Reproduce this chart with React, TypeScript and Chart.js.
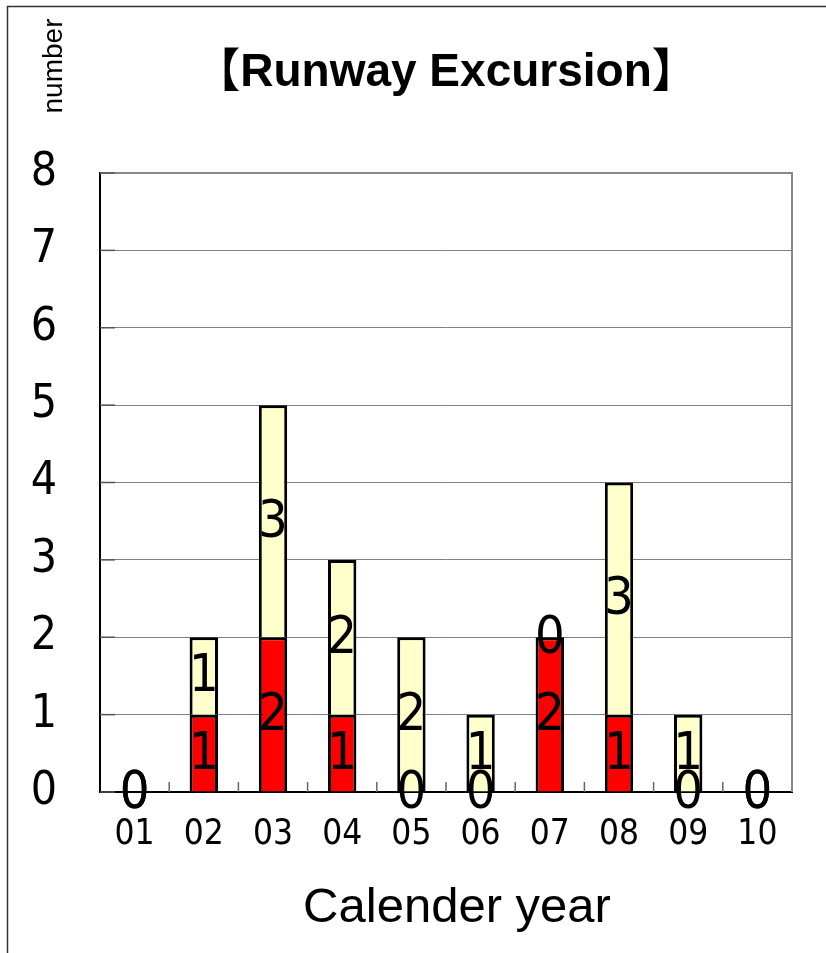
import React, { useEffect, useRef } from "react";
import { Chart, registerables } from "chart.js";

Chart.register(...registerables);

const categories = ["01", "02", "03", "04", "05", "06", "07", "08", "09", "10"];
const redValues = [0, 1, 2, 1, 0, 0, 2, 1, 0, 0];
const yellowValues = [0, 1, 3, 2, 2, 1, 0, 3, 1, 0];
const yMin = 0;
const yMax = 8;
const yStep = 1;
const titleText = "【Runway Excursion】";
const xTitleText = "Calender year";
const yTitleText = "number";

const NARROW = '"Liberation Sans Narrow", "DejaVu Sans Condensed", "Liberation Sans", sans-serif';
const SANS = '"Liberation Sans", "Noto Sans CJK JP", sans-serif';

const decorPlugin = {
  id: "decor",
  afterDraw(chart: any) {
    const ctx = chart.ctx;
    const area = chart.chartArea;
    const xs = chart.scales.x;
    const ys = chart.scales.y;
    ctx.save();
    // outer frame (left & top)
    ctx.strokeStyle = "#333";
    ctx.lineWidth = 1.5;
    ctx.beginPath();
    ctx.moveTo(7.5, 953);
    ctx.lineTo(7.5, 6.5);
    ctx.lineTo(826, 6.5);
    ctx.stroke();
    // chart area top/right border
    ctx.strokeStyle = "#888";
    ctx.lineWidth = 2;
    ctx.beginPath();
    ctx.moveTo(area.left, area.top);
    ctx.lineTo(area.right, area.top);
    ctx.lineTo(area.right, area.bottom);
    ctx.stroke();
    // inside ticks on x axis at category boundaries
    ctx.strokeStyle = "#666";
    ctx.lineWidth = 1.5;
    for (let i = 0; i < categories.length - 1; i++) {
      const bx = (xs.getPixelForValue(i) + xs.getPixelForValue(i + 1)) / 2;
      ctx.beginPath();
      ctx.moveTo(bx, area.bottom);
      ctx.lineTo(bx, area.bottom - 10);
      ctx.stroke();
    }
    // inside ticks on y axis
    ctx.strokeStyle = "#555";
    for (let v = yMin; v <= yMax; v += yStep) {
      const py = ys.getPixelForValue(v);
      ctx.beginPath();
      ctx.moveTo(area.left, py);
      ctx.lineTo(area.left + 15, py);
      ctx.stroke();
    }
    // data labels
    ctx.fillStyle = "#000";
    ctx.font = "52px " + NARROW;
    ctx.textAlign = "center";
    ctx.textBaseline = "middle";
    chart.data.datasets.forEach((ds: any, di: number) => {
      const meta = chart.getDatasetMeta(di);
      meta.data.forEach((el: any, i: number) => {
        const cy = (el.y + el.base) / 2;
        ctx.fillText(String(ds.data[i]), el.x, cy + 2);
      });
    });
    // title
    ctx.textBaseline = "alphabetic";
    ctx.font = "bold 46px " + SANS;
    ctx.fillText(titleText, (area.left + area.right) / 2, 86);
    // x title
    ctx.font = "49px " + SANS;
    ctx.fillText(xTitleText, 457, 922);
    // y title rotated
    ctx.save();
    ctx.translate(62, 66);
    ctx.rotate(-Math.PI / 2);
    ctx.font = "28px " + SANS;
    ctx.textAlign = "center";
    ctx.fillText(yTitleText, 0, 0);
    ctx.restore();
    ctx.restore();
  },
};

export default function App() {
  const ref = useRef<HTMLCanvasElement | null>(null);
  useEffect(() => {
    if (!ref.current) return;
    const chart = new Chart(ref.current, {
      type: "bar",
      data: {
        labels: categories,
        datasets: [
          {
            label: "red",
            data: redValues,
            backgroundColor: "#FF0000",
            borderColor: "#000",
            borderWidth: 3,
            barPercentage: 0.41,
            categoryPercentage: 1,
          },
          {
            label: "yellow",
            data: yellowValues,
            backgroundColor: "#FFFFCC",
            borderColor: "#000",
            borderWidth: 3,
            barPercentage: 0.41,
            categoryPercentage: 1,
          },
        ],
      },
      options: {
        responsive: false,
        animation: false,
        layout: { padding: { left: 0, top: 173, right: 34, bottom: 0 } },
        plugins: {
          legend: { display: false },
          title: { display: false },
          tooltip: { enabled: false },
        },
        scales: {
          x: {
            stacked: true,
            offset: true,
            grid: { display: false, drawTicks: false },
            border: { display: true, color: "#000", width: 2 },
            ticks: {
              color: "#000",
              font: { family: NARROW, size: 35 },
              padding: 22,
            },
            afterFit(scale: any) {
              scale.height = 953 - 792;
            },
          },
          y: {
            stacked: true,
            min: yMin,
            max: yMax,
            grid: { color: "#808080", lineWidth: 1, drawTicks: false },
            border: { display: true, color: "#000", width: 2 },
            ticks: {
              stepSize: yStep,
              color: "#000",
              font: { family: NARROW, size: 46 },
              padding: 43,
            },
            afterFit(scale: any) {
              scale.width = 100;
            },
          },
        },
      },
      plugins: [decorPlugin],
    });
    return () => chart.destroy();
  }, []);
  return (
    <div style={{ position: "absolute", left: 0, top: 0, width: 826, height: 953 }}>
      <canvas ref={ref} width={826} height={953} style={{ display: "block" }} />
    </div>
  );
}
